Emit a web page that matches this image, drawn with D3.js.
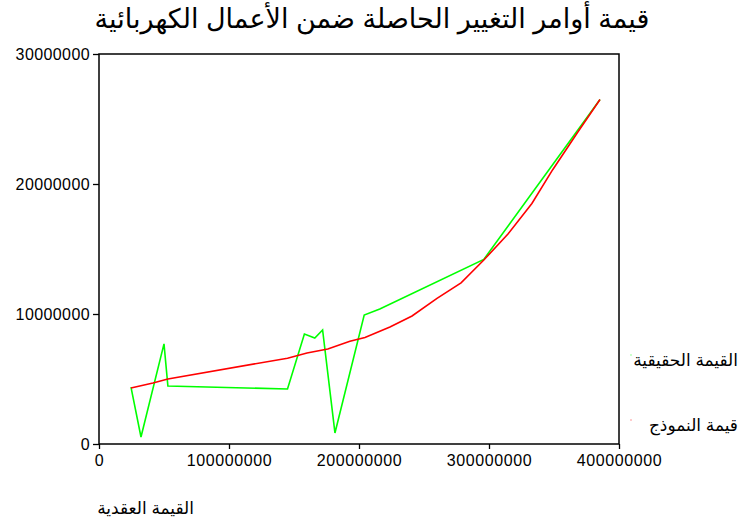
<!DOCTYPE html>
<html>
<head>
<meta charset="utf-8">
<script src="https://cdn.jsdelivr.net/npm/d3@7"></script>
<style>
  html, body { margin: 0; padding: 0; background: #fff; }
  svg { display: block; }
  text { font-family: Arial, "Liberation Sans", "DejaVu Sans", sans-serif; fill: #000; }
</style>
</head>
<body>
<svg id="chart" width="749" height="527"></svg>
<script>
// Contract value (x) and change-order value for the actual series
const actualContract = [24.6e6, 32.3e6, 50e6, 53e6, 145e6, 158e6, 166e6, 172e6, 181.5e6, 204e6, 216e6, 296e6, 385.4e6];
const actualValues   = [4.38e6, 0.54e6, 7.7e6, 4.46e6, 4.23e6, 8.46e6, 8.15e6, 8.77e6, 0.85e6, 9.92e6, 10.38e6, 14.2e6, 26.5e6];

// Contract value (x) and fitted model value
const modelContract = [24.6e6, 41.5e6, 53e6, 145e6, 160e6, 176e6, 193e6, 204.6e6, 223.8e6, 240.8e6, 260e6, 278.5e6, 296e6, 314.6e6, 333e6, 349e6, 367.7e6, 385.4e6];
const modelValues   = [4.31e6, 4.69e6, 5.0e6, 6.6e6, 7.0e6, 7.3e6, 7.9e6, 8.2e6, 9.0e6, 9.85e6, 11.2e6, 12.4e6, 14.15e6, 16.15e6, 18.5e6, 21.1e6, 23.9e6, 26.5e6];

const xTicks = [0, 100000000, 200000000, 300000000, 400000000];
const yTicks = [0, 10000000, 20000000, 30000000];

const titleText = "قيمة أوامر التغيير الحاصلة ضمن الأعمال الكهربائية";
const xTitleText = "القيمة العقدية";
const legendActual = "القيمة الحقيقية";
const legendModel = "قيمة النموذج";

const svg = d3.select("#chart");
const plotLeft = 99, plotRight = 619, plotTop = 54, plotBottom = 444;

const x = d3.scaleLinear().domain([0, 400000000]).range([plotLeft, plotRight]);
const y = d3.scaleLinear().domain([0, 30000000]).range([plotBottom, plotTop]);

// Title
svg.append("text")
  .attr("x", 372).attr("y", 28)
  .attr("text-anchor", "middle")
  .attr("direction", "rtl")
  .style("font-size", "27px")
  .text(titleText);

// Axes
const fmt = d3.format("d");
svg.append("g")
  .attr("transform", `translate(0,${plotBottom})`)
  .call(d3.axisBottom(x).tickValues(xTicks).tickFormat(fmt).tickSizeOuter(0).tickSize(5).tickPadding(6))
  .call(g => g.select(".domain").remove())
  .call(g => g.selectAll("line").attr("stroke", "#000").attr("stroke-width", 1.3))
  .call(g => g.selectAll("text").style("font-size", "16px").style("letter-spacing", "0.6px"));

svg.append("g")
  .attr("transform", `translate(${plotLeft},0)`)
  .call(d3.axisLeft(y).tickValues(yTicks).tickFormat(fmt).tickSizeOuter(0).tickSize(6).tickPadding(3))
  .call(g => g.select(".domain").remove())
  .call(g => g.selectAll("line").attr("stroke", "#000").attr("stroke-width", 1.3))
  .call(g => g.selectAll("text").style("font-size", "16px").style("letter-spacing", "0.4px"));

// Plot frame
svg.append("rect")
  .attr("x", plotLeft).attr("y", plotTop)
  .attr("width", plotRight - plotLeft).attr("height", plotBottom - plotTop)
  .attr("fill", "none").attr("stroke", "#000").attr("stroke-width", 1.5);

// Series lines
const line = d3.line().x(d => x(d[0])).y(d => y(d[1]));

svg.append("path")
  .datum(actualContract.map((c, i) => [c, actualValues[i]]))
  .attr("d", line)
  .attr("fill", "none").attr("stroke", "#00ff00").attr("stroke-width", 1.6);

svg.append("path")
  .datum(modelContract.map((c, i) => [c, modelValues[i]]))
  .attr("d", line)
  .attr("fill", "none").attr("stroke", "#ff0000").attr("stroke-width", 1.6);

// Legend
const legend = [
  { label: legendActual, color: "#00ff00", y: 366 },
  { label: legendModel, color: "#ff0000", y: 431 }
];
legend.forEach(d => {
  svg.append("line")
    .attr("x1", 630).attr("x2", 632)
    .attr("y1", d.y + 13 - 24).attr("y2", d.y + 13 - 24)
    .attr("stroke", d.color).attr("stroke-width", 1).attr("opacity", 0.4);
  svg.append("text")
    .attr("x", 738).attr("y", d.y)
    .attr("text-anchor", "start")
    .attr("direction", "rtl")
    .style("font-size", "17px")
    .text(d.label);
});

// X axis title
svg.append("text")
  .attr("x", 194).attr("y", 514)
  .attr("direction", "rtl")
  .attr("text-anchor", "start")
  .style("font-size", "17px")
  .text(xTitleText);
</script>
</body>
</html>
